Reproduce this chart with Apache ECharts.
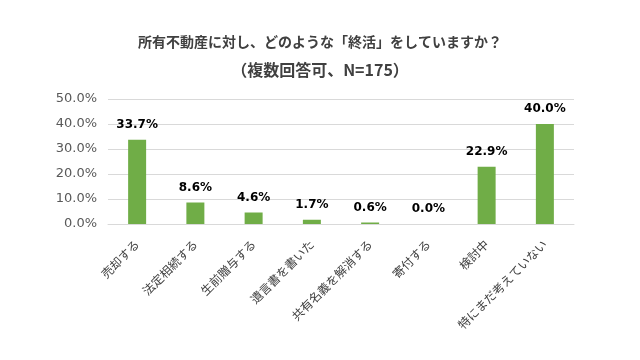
<!DOCTYPE html>
<html><head><meta charset="utf-8">
<script src="https://cdn.jsdelivr.net/npm/echarts@6/dist/echarts.min.js"></script>
<style>html,body{margin:0;padding:0;background:#fff}#c{width:640px;height:360px}</style>
</head><body><div id="c"></div>
<script>
var titleLines = ['所有不動産に対し、どのような「終活」をしていますか？', '（複数回答可、N=175）'];
var categories = ['売却する','法定相続する','生前贈与する','遺言書を書いた','共有名義を解消する','寄付する','検討中','特にまだ考えていない'];
var values = [33.7, 8.6, 4.6, 1.7, 0.6, 0.0, 22.9, 40.0];
var yTicks = [0, 10, 20, 30, 40, 50];
var font = '"Noto Sans CJK JP", "Noto Sans", sans-serif';
var numFont = 'Verdana, "DejaVu Sans", sans-serif';
var chart = echarts.init(document.getElementById('c'), null, {renderer:'canvas'});
chart.setOption({
  animation:false,
  backgroundColor:'#fff',
  title:{text:'{a|' + titleLines[0] + '}\n{b|' + titleLines[1] + '}', left:'center', top:23,
    textStyle:{fontFamily:font, fontSize:14, fontWeight:'bold', color:'#404040',
      rich:{
        a:{fontFamily:font, fontSize:14, fontWeight:'bold', color:'#404040', lineHeight:28, align:'center'},
        b:{fontFamily:font, fontSize:16, fontWeight:'bold', color:'#404040', lineHeight:28, align:'center'}
      }}},
  grid:{left:108, right:66, top:99, bottom:136},
  xAxis:{type:'category', data:categories,
    axisLine:{lineStyle:{color:'#d9d9d9'}}, axisTick:{show:false},
    axisLabel:{interval:0, rotate:45, fontFamily:font, fontSize:12, color:'#404040', margin:18}},
  yAxis:{type:'value', min:yTicks[0], max:yTicks[yTicks.length-1], interval:10,
    axisLine:{show:false}, axisTick:{show:false},
    splitLine:{lineStyle:{color:'#d9d9d9'}},
    axisLabel:{formatter:function(v){return v.toFixed(1)+'%';}, fontFamily:numFont, fontSize:13, color:'#595959', margin:11}},
  series:[{type:'bar', data:values, barWidth:18,
    itemStyle:{color:'#70ad47'},
    label:{show:true, position:'top', distance:9, formatter:function(p){return p.value.toFixed(1)+'%';},
      fontFamily:numFont, fontWeight:'bold', fontSize:12, color:'#000'}}]
});
</script></body></html>
